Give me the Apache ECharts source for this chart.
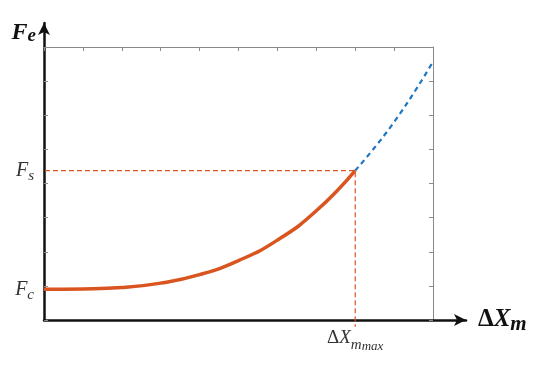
<!DOCTYPE html>
<html>
<head>
<meta charset="utf-8">
<script src="https://cdn.jsdelivr.net/npm/echarts@6/dist/echarts.min.js"></script>
<style>
  html, body { margin: 0; padding: 0; background: #fff; }
  #main { width: 550px; height: 365px; }
</style>
</head>
<body>
<div id="main"></div>
<script>
// values (x: 0..10, y: 0..8)
const curveX = [0, 1, 2, 3, 4, 5, 6, 7, 8];
const curveY = [0.9, 0.91, 0.95, 1.08, 1.33, 1.74, 2.34, 3.2, 4.38];
const extX = [8, 9, 10];
const extY = [4.38, 5.8, 7.57];
const Fc = 0.9;
const Fs = 4.38;
const xMax = 8;

const orange = "#d9541e";
const blue = "#1f77c4";
const frame = "#8a8a8a";
const serif = "Liberation Serif";

const chart = echarts.init(document.getElementById("main"));

const pair = (xs, ys) => xs.map((x, i) => [x, ys[i]]);

// frame axes (grid 0), arrow axes (grid 1)
const frameAxis = {
  gridIndex: 0,
  axisLine: { show: true, onZero: false, lineStyle: { color: frame, width: 1 } },
  axisTick: { show: true, inside: true, length: 4, lineStyle: { color: frame } },
  axisLabel: { show: false },
  splitLine: { show: false },
};

const arrowLine = {
  show: true,
  onZero: false,
  symbol: ["none", "arrow"],
  symbolSize: [9, 12],
  lineStyle: { color: "#111", width: 2.5 },
};

const option = {
  animation: false,
  grid: [
    { left: 44, top: 47, right: 117, bottom: 45, outerBoundsMode: "none" },
    { left: 44, top: 23, right: 84, bottom: 45, outerBoundsMode: "none" },
  ],
  xAxis: [
    {
      ...frameAxis,
      type: "value",
      min: 0,
      max: 10,
      interval: 1,
      position: "bottom",
      axisLine: { show: false, onZero: false },
      axisTick: { show: false },
      axisLabel: {
        show: true,
        customValues: [xMax],
        margin: 3,
        formatter: () => "{a|Δ}{b|X}{c|m}{d|max}",
        rich: {
          a: { fontFamily: serif, fontSize: 19, color: "#333", lineHeight: 30 },
          b: { fontFamily: serif, fontStyle: "italic", fontSize: 19, color: "#333", lineHeight: 30 },
          c: { fontFamily: serif, fontStyle: "italic", fontSize: 15, color: "#333", lineHeight: 17, verticalAlign: "bottom" },
          d: { fontFamily: serif, fontStyle: "italic", fontSize: 13, color: "#333", lineHeight: 8, verticalAlign: "bottom" },
        },
      },
    },
    { ...frameAxis, type: "value", min: 0, max: 10, interval: 1, position: "top" },
    {
      gridIndex: 1,
      type: "value",
      min: 0,
      max: 1,
      axisLine: arrowLine,
      axisTick: { show: false },
      axisLabel: { show: false },
      splitLine: { show: false },
      name: "{a|Δ}{b|X}{c|m}",
      nameLocation: "end",
      nameGap: 12,
      nameTextStyle: {
        rich: {
          a: { fontFamily: serif, fontWeight: "bold", fontSize: 25, color: "#111", lineHeight: 30 },
          b: { fontFamily: serif, fontWeight: "bold", fontStyle: "italic", fontSize: 25, color: "#111", lineHeight: 30 },
          c: { fontFamily: serif, fontWeight: "bold", fontStyle: "italic", fontSize: 21, color: "#111", lineHeight: 20, verticalAlign: "bottom" },
        },
      },
    },
  ],
  yAxis: [
    {
      ...frameAxis,
      type: "value",
      min: 0,
      max: 8,
      interval: 1,
      position: "left",
      axisLabel: {
        show: true,
        customValues: [Fc, Fs],
        margin: 10,
        formatter: (v) => (v === Fs ? "{f|F}{s|s}" : "{f|F}{s|c}"),
        rich: {
          f: { fontFamily: serif, fontStyle: "italic", fontSize: 20, color: "#333", lineHeight: 26 },
          s: { fontFamily: serif, fontStyle: "italic", fontSize: 15, color: "#333", lineHeight: 15, verticalAlign: "bottom" },
        },
      },
    },
    { ...frameAxis, type: "value", min: 0, max: 8, interval: 1, position: "right" },
    {
      gridIndex: 1,
      type: "value",
      min: 0,
      max: 1,
      axisLine: arrowLine,
      axisTick: { show: false },
      axisLabel: { show: false },
      splitLine: { show: false },
      name: "{f|F}{e|e}",
      nameLocation: "end",
      nameGap: 3,
      nameTextStyle: {
        align: "right",
        verticalAlign: "top",
        padding: [0, 8, 0, 0],
        rich: {
          f: { fontFamily: serif, fontWeight: "bold", fontStyle: "italic", fontSize: 24, color: "#111", lineHeight: 26 },
          e: { fontFamily: serif, fontWeight: "bold", fontStyle: "italic", fontSize: 19, color: "#111", lineHeight: 12, verticalAlign: "bottom" },
        },
      },
    },
  ],
  series: [
    {
      name: "guide",
      type: "line",
      xAxisIndex: 0,
      yAxisIndex: 0,
      clip: false,
      symbol: "none",
      data: [[-0.18, Fs], [xMax, Fs], [xMax, -0.2]],
      lineStyle: { color: orange, width: 1.2, type: [5, 3] },
      z: 3,
    },
    {
      name: "Fe",
      type: "line",
      xAxisIndex: 0,
      yAxisIndex: 0,
      smooth: 0.5,
      symbol: "none",
      data: pair(curveX, curveY),
      lineStyle: { color: orange, width: 3.5 },
      z: 4,
    },
    {
      name: "extension",
      type: "line",
      xAxisIndex: 0,
      yAxisIndex: 0,
      smooth: 0.5,
      symbol: "none",
      data: pair(extX, extY),
      lineStyle: { color: blue, width: 2.2, type: [5, 4] },
      z: 4,
    },
  ],
};

chart.setOption(option);
</script>
</body>
</html>
